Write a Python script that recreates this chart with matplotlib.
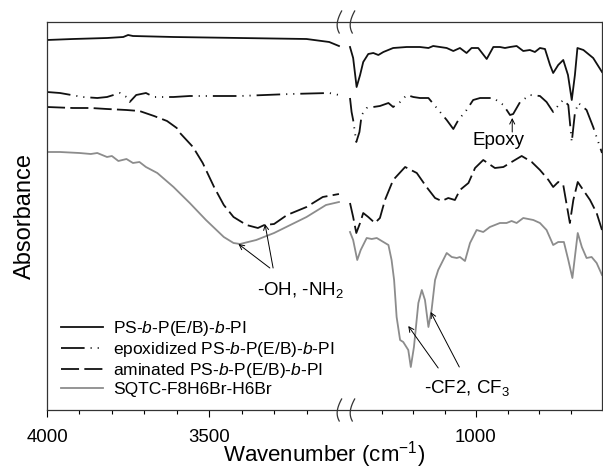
import numpy as np
import matplotlib
matplotlib.use('Agg')
import matplotlib.pyplot as plt

plt.rcParams['font.family'] = ['Liberation Sans', 'DejaVu Sans']
plt.rcParams['mathtext.fontset'] = 'custom'
plt.rcParams['mathtext.rm'] = 'Liberation Sans'
plt.rcParams['mathtext.it'] = 'Liberation Sans:italic'
plt.rcParams['lines.scale_dashes'] = False

# --- spectra (offset, arbitrary units), high and low wavenumber windows ---
ps_hi_wn = [4000, 3920, 3815, 3765, 3750, 3735, 3610, 3405, 3200, 3130, 3100]
ps_hi_y = [3.70, 3.71, 3.72, 3.73, 3.75, 3.74, 3.73, 3.72, 3.71, 3.68, 3.64]
ps_lo_wn = [1400, 1390, 1379, 1368, 1358, 1342, 1326, 1310, 1294, 1263, 1220, 1178, 1151,
            1136, 1093, 1072, 1051, 1030, 1014, 993, 966, 945, 924, 908, 892, 871, 850,
            829, 813, 797, 781, 765, 755, 739, 723, 708, 696, 686, 678, 659, 628, 600]
ps_lo_y = [3.63, 3.52, 3.23, 3.35, 3.48, 3.56, 3.57, 3.55, 3.58, 3.62, 3.63, 3.63, 3.62,
           3.64, 3.62, 3.59, 3.62, 3.57, 3.62, 3.62, 3.51, 3.63, 3.63, 3.62, 3.63, 3.64, 3.59,
           3.60, 3.58, 3.62, 3.61, 3.45, 3.37, 3.45, 3.50, 3.35, 3.10, 3.35, 3.62, 3.60, 3.52, 3.38]

epo_hi_wn = [4000, 3960, 3890, 3845, 3815, 3775, 3755, 3745, 3725, 3695, 3670, 3610, 3560,
             3405, 3250, 3130, 3100]
epo_hi_y = [3.18, 3.17, 3.13, 3.12, 3.13, 3.17, 3.13, 3.08, 3.15, 3.17, 3.13, 3.13, 3.14,
            3.14, 3.16, 3.17, 3.15]
epo_lo_wn = [1400, 1395, 1390, 1380, 1370, 1363, 1347, 1305, 1278, 1263, 1241, 1220, 1199,
             1178, 1151, 1114, 1093, 1072, 1056, 1030, 1009, 987, 945, 913, 892, 882, 860,
             829, 797, 776, 755, 733, 723, 707, 696, 686, 675, 649, 628, 600]
epo_lo_y = [3.12, 2.98, 2.90, 2.68, 2.78, 2.95, 3.02, 3.04, 3.07, 3.03, 3.08, 3.15, 3.13,
            3.12, 3.12, 2.98, 2.90, 2.81, 2.90, 3.00, 3.10, 3.12, 3.12, 3.05, 2.95, 2.96, 3.08,
            3.15, 3.14, 3.08, 2.98, 3.07, 3.10, 3.05, 2.68, 2.97, 3.07, 3.00, 2.83, 2.57]

ami_hi_wn = [4000, 3920, 3865, 3815, 3755, 3715, 3670, 3630, 3600, 3590, 3550, 3520, 3485,
             3455, 3425, 3385, 3350, 3330, 3300, 3260, 3200, 3150, 3100]
ami_hi_y = [3.03, 3.02, 3.02, 3.01, 3.00, 2.99, 2.94, 2.89, 2.82, 2.77, 2.63, 2.47, 2.23,
            2.05, 1.93, 1.85, 1.82, 1.85, 1.86, 1.95, 2.03, 2.13, 2.16]
ami_lo_wn = [1400, 1390, 1380, 1368, 1358, 1342, 1321, 1305, 1289, 1263, 1225, 1188, 1157,
             1130, 1109, 1088, 1067, 1051, 1024, 1003, 977, 940, 913, 887, 855, 823, 797,
             770, 755, 739, 723, 702, 691, 677, 638, 617, 600]
ami_lo_y = [2.07, 1.93, 1.77, 1.87, 1.97, 1.93, 1.87, 1.92, 2.10, 2.30, 2.43, 2.37, 2.23,
            2.12, 2.09, 2.12, 2.10, 2.20, 2.27, 2.42, 2.50, 2.42, 2.43, 2.48, 2.54, 2.48, 2.40,
            2.30, 2.23, 2.28, 2.25, 1.87, 2.10, 2.28, 2.10, 1.97, 1.80]

sq_hi_wn = [4000, 3960, 3900, 3865, 3845, 3815, 3800, 3780, 3755, 3735, 3715, 3695, 3660,
            3610, 3560, 3510, 3455, 3425, 3405, 3355, 3300, 3200, 3140, 3100]
sq_hi_y = [2.58, 2.58, 2.57, 2.56, 2.57, 2.53, 2.54, 2.49, 2.51, 2.47, 2.48, 2.43, 2.37,
           2.23, 2.07, 1.90, 1.73, 1.67, 1.66, 1.70, 1.77, 1.93, 2.05, 2.08]
sq_lo_wn = [1400, 1390, 1377, 1366, 1347, 1331, 1315, 1294, 1278, 1268, 1260, 1252, 1241,
            1231, 1215, 1207, 1197, 1183, 1172, 1162, 1151, 1141, 1130, 1120, 1093, 1077,
            1061, 1051, 1035, 1019, 998, 977, 956, 924, 903, 887, 871, 850, 818, 797, 776,
            755, 739, 721, 707, 694, 677, 664, 649, 633, 617, 600]
sq_lo_y = [1.78, 1.70, 1.50, 1.60, 1.72, 1.71, 1.72, 1.68, 1.65, 1.50, 1.30, 0.93, 0.70,
           0.68, 0.60, 0.43, 0.63, 1.07, 1.20, 1.10, 0.83, 1.00, 1.30, 1.40, 1.57, 1.53,
           1.52, 1.53, 1.49, 1.67, 1.80, 1.78, 1.83, 1.87, 1.87, 1.89, 1.87, 1.92, 1.90, 1.87, 1.80,
           1.65, 1.68, 1.68, 1.50, 1.32, 1.77, 1.63, 1.52, 1.53, 1.47, 1.35]

labels = ['PS-$b$-P(E/B)-$b$-PI',
          'epoxidized PS-$b$-P(E/B)-$b$-PI',
          'aminated PS-$b$-P(E/B)-$b$-PI',
          'SQTC-F8H6Br-H6Br']


# broken x axis: 4000-3100 and 1400-600 side by side
def fwd(x):
    x = np.asarray(x, dtype=float)
    hi = (4000 - x) * 0.3244
    lo = 303 + (1400 - x) * 0.315
    mid = 292 + (3100 - x) / 1700 * 11
    return -np.where(x >= 3100, hi, np.where(x <= 1400, lo, mid))


def inv(v):
    u = -np.asarray(v, dtype=float)
    return np.where(u <= 292, 4000 - u / 0.3244,
                    np.where(u >= 303, 1400 - (u - 303) / 0.315,
                             3100 - (u - 292) / 11 * 1700))


fig = plt.figure(figsize=(6.03, 4.71), dpi=100)
ax = fig.add_axes([47 / 603, 61 / 471, 555 / 603, 388 / 471])
ax.set_xscale('function', functions=(fwd, inv))

styles = [dict(color='#111111'),
          dict(color='#111111', dashes=(17, 4.3, 0.8, 4.3, 0.8, 4.3)),
          dict(color='#111111', dashes=(13, 3.8)),
          dict(color='#8c8c8c')]
series = [(ps_hi_wn, ps_hi_y, ps_lo_wn, ps_lo_y),
          (epo_hi_wn, epo_hi_y, epo_lo_wn, epo_lo_y),
          (ami_hi_wn, ami_hi_y, ami_lo_wn, ami_lo_y),
          (sq_hi_wn, sq_hi_y, sq_lo_wn, sq_lo_y)]

for (hw, hy, lw_, ly), st, lab in zip(series, styles, labels):
    ax.plot(hw, hy, lw=1.3, label=lab, **st)
    ax.plot(lw_, ly, lw=1.3, **st)

ax.set_xlim(4000, 600)
ax.set_ylim(0, 3.88)
ax.set_yticks([])
ax.set_xticks([4000, 3500, 1000], labels=['4000', '3500', '1000'])
ax.set_xticks([3900, 3800, 3700, 3600, 3400, 3300, 3200,
               1300, 1200, 1100, 900, 800, 700], minor=True)
ax.tick_params(axis='x', which='major', direction='out', length=5, width=0.8,
               labelsize=13.4, pad=9)
ax.tick_params(axis='x', which='minor', direction='out', length=3, width=0.8)
for sp in ax.spines.values():
    sp.set_linewidth(0.9)
    sp.set_color('#333333')

ax.set_xlabel('Wavenumber (cm$^{-1}$)', fontsize=16, labelpad=-5)
ax.set_ylabel('Absorbance', fontsize=17, labelpad=8)

# annotations
arr = dict(arrowstyle='->', lw=0.7, color='k', shrinkA=0, shrinkB=0,
           mutation_scale=9)
ax.annotate('', xy=(3328, 1.86), xytext=(3303, 1.42), arrowprops=arr)
ax.annotate('', xy=(3410, 1.66), xytext=(3313, 1.42), arrowprops=arr)
ax.text(3220, 1.20, '-OH, -NH$_2$', fontsize=13.5, ha='center', va='center')

ax.annotate('', xy=(1215, 0.84), xytext=(1120, 0.42), arrowprops=arr)
ax.annotate('', xy=(1144, 0.98), xytext=(1053, 0.43), arrowprops=arr)
ax.text(1029, 0.22, '-CF2, CF$_3$', fontsize=13.5, ha='center', va='center')

ax.annotate('', xy=(885, 2.92), xytext=(885, 2.78), arrowprops=arr)
ax.text(927, 2.69, 'Epoxy', fontsize=13.5, ha='center', va='center')

ax.legend(loc='lower left', bbox_to_anchor=(0.0247, 0.034), frameon=False,
          fontsize=12.5, handlelength=2.45, handletextpad=0.55,
          labelspacing=0.1, borderpad=0, borderaxespad=0)

# break marks on top and bottom spines
s = np.linspace(0, 1, 30)
dx = (3 * (2 * s - 1) ** 2 - 1.5 + 1.2 * np.cos(np.pi * s)) / 555
dy = (11 - 22 * s) / 388
for xf in (0.526, 0.5495):
    for yc in (1.0, 0.0):
        ax.plot(xf + dx, yc + dy, color='#333333', lw=0.9,
                transform=ax.transAxes, clip_on=False)

fig.savefig('out.png', dpi=100)
